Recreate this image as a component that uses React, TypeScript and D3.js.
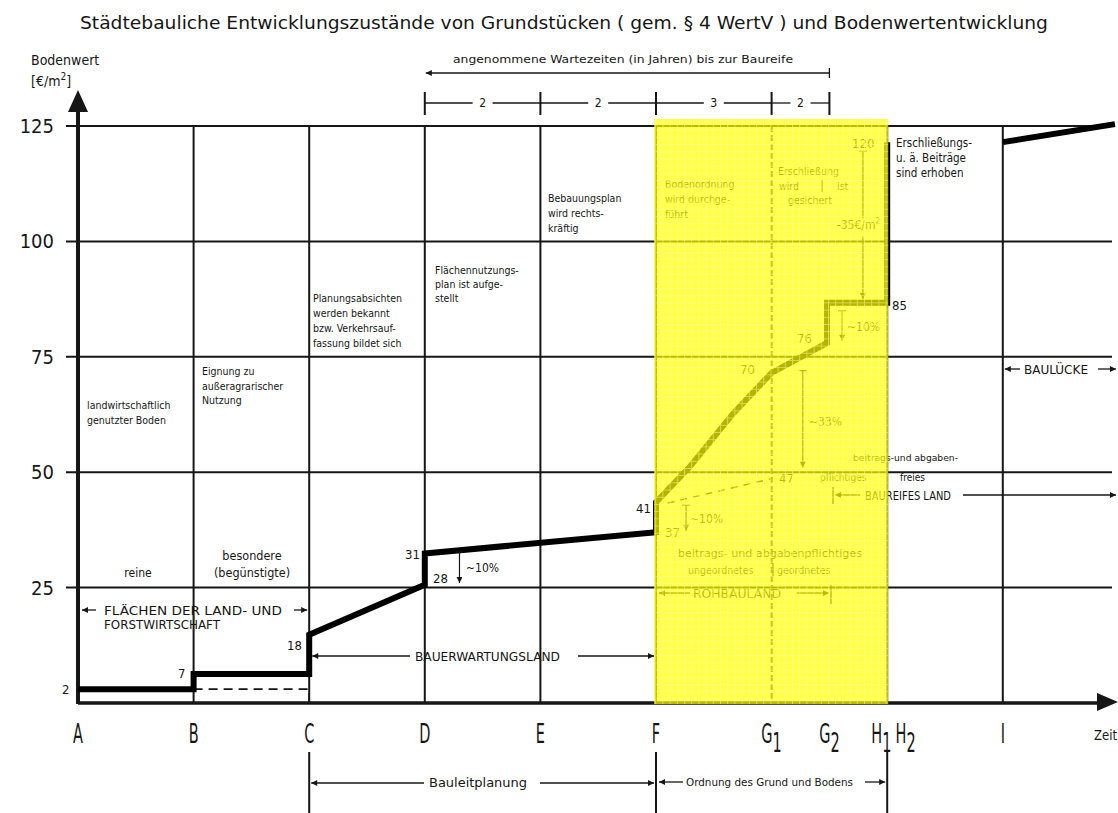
import React from 'react';
import * as d3 from 'd3';

// Stages on the time axis (position in grid units)
const stageLetters = ['A', 'B', 'C', 'D', 'E', 'F', 'G', 'G', 'H', 'H', 'I'];
const stageSubs = ['', '', '', '', '', '', '1', '2', '1', '2', ''];
const stagePos = [0, 1, 2, 3, 4, 5, 6, 6.5, 6.95, 7.16, 8];
const solidGrid = [1, 2, 3, 4, 5, 7, 8];
const yTicks = [25, 50, 75, 100, 125];

// Bodenwert line as drawn [stage, €/m²]
const valueLine: [number, number][] = [
  [0, 3], [1, 3], [1, 6.3], [2, 6.3], [2, 14.8], [3, 25.6], [3, 32.4],
  [5, 37], [5, 43.5], [5.29, 51.1], [5.67, 62.8], [6, 71.5], [6.48, 78],
  [6.48, 86.7], [7, 86.7], [7, 121.5],
];
const valueLineBaulucke: [number, number][] = [[8, 121.5], [8.97, 125.4]];
const dashedLow: [number, number][] = [[1, 3], [2, 3], [2, 0]];
const dashedRoh: [number, number][] = [[5.1, 43.3], [6, 48.6]];

// Wartezeiten (Jahre) between D, E, F, G1, G2
const waitStages = [3, 4, 5, 6, 6.5];
const waitYears = [2, 2, 3, 2];

const x = d3.scaleLinear().domain([0, 8]).range([78, 78 + 8 * 115.6]);
const y = d3.scaleLinear().domain([0, 125]).range([703, 126]);

const FONT = "'DejaVu Sans Condensed', 'DejaVu Sans', sans-serif";
const INK = '#161616';

function Block({ x: tx, y: ty, lines, size = 10.5, lh = 14.5, anchor = 'start' }:
  { x: number; y: number; lines: string[]; size?: number; lh?: number; anchor?: string }) {
  return (
    <text x={tx} y={ty} fontSize={size} textAnchor={anchor as any} fontFamily={FONT} fill={INK}>
      {lines.map((l, i) => (
        <tspan key={i} x={tx} dy={i === 0 ? 0 : lh}>{l}</tspan>
      ))}
    </text>
  );
}

function HArrow({ x1, x2, yy, start = false, end = false }:
  { x1: number; x2: number; yy: number; start?: boolean; end?: boolean }) {
  return (
    <line x1={x1} x2={x2} y1={yy} y2={yy} stroke={INK} strokeWidth={1.3}
      markerStart={start ? 'url(#arr)' : undefined} markerEnd={end ? 'url(#arr)' : undefined} />
  );
}

function VArrow({ sx, from, to, label, tx, ty }:
  { sx: number; from: number; to: number; label: string; tx: number; ty: number }) {
  const px = x(sx);
  return (
    <g>
      <line x1={px - 4} x2={px + 4} y1={y(from)} y2={y(from)} stroke={INK} strokeWidth={1.2} />
      <line x1={px} x2={px} y1={y(from)} y2={y(to)} stroke={INK} strokeWidth={1.2} markerEnd="url(#arr)" />
      <text x={tx} y={ty} fontSize={12} fontFamily={FONT} fill={INK}>{label}</text>
    </g>
  );
}

export default function App() {
  const line = d3.line<[number, number]>().x(d => x(d[0])).y(d => y(d[1]));
  const yl = x(5), yr = x(7);

  const pointLabels = [
    { t: '2', px: 62, py: 694 },
    { t: '7', px: 178, py: 678 },
    { t: '18', px: 287, py: 650 },
    { t: '28', px: 433, py: 583 },
    { t: '31', px: 405, py: 559 },
    { t: '41', px: 636, py: 513 },
    { t: '37', px: 665, py: 537 },
    { t: '47', px: 779, py: 483 },
    { t: '70', px: 740, py: 374 },
    { t: '76', px: 797, py: 343 },
    { t: '85', px: 892, py: 310 },
    { t: '120', px: 852, py: 148 },
  ];

  return (
    <svg width={1118} height={813} style={{ position: 'absolute', left: 0, top: 0, background: '#fff' }}>
      <defs>
        <marker id="arr" viewBox="0 0 10 10" refX={10} refY={5} markerWidth={10} markerHeight={6}
          markerUnits="userSpaceOnUse" orient="auto-start-reverse">
          <path d="M0,0 L10,5 L0,10 z" fill={INK} />
        </marker>
        <pattern id="mesh" width={7.2} height={7.2} patternUnits="userSpaceOnUse">
          <path d="M0,0.5 H7.2 M0.5,0 V7.2" stroke="rgba(255,255,150,0.55)" strokeWidth={1} fill="none" />
        </pattern>
      </defs>
      <rect width={1118} height={813} fill="#fff" />

      {/* title */}
      <text x={80} y={29} fontSize={17.5} fontFamily={FONT} fill={INK} textLength={968} lengthAdjust="spacingAndGlyphs">
        Städtebauliche Entwicklungszustände von Grundstücken ( gem. § 4 WertV ) und Bodenwertentwicklung
      </text>

      {/* y axis title */}
      <text x={31} y={65} fontSize={14} fontFamily={FONT} fill={INK}>Bodenwert</text>
      <text x={31} y={86} fontSize={14} fontFamily={FONT} fill={INK}>
        [€/m<tspan dy={-6} fontSize={10}>2</tspan><tspan dy={6}>]</tspan>
      </text>

      {/* horizontal grid */}
      {yTicks.map(v => (
        <line key={v} x1={66} x2={1112} y1={y(v)} y2={y(v)} stroke={INK} strokeWidth={2} />
      ))}
      {yTicks.map(v => (
        <text key={'t' + v} x={54} y={y(v) + 7} fontSize={20} textAnchor="end" fontFamily={FONT} fill={INK}>{v}</text>
      ))}

      {/* vertical grid */}
      {solidGrid.map(s => (
        <line key={s} x1={x(s)} x2={x(s)} y1={y(125)} y2={y(0)} stroke={INK} strokeWidth={2} />
      ))}
      <line x1={x(6)} x2={x(6)} y1={y(125)} y2={y(0)} stroke={INK} strokeWidth={2} strokeDasharray="6 3" />

      {/* waiting time bracket */}
      <text x={453} y={63} fontSize={11} fontFamily={FONT} fill={INK} textLength={340} lengthAdjust="spacingAndGlyphs">
        angenommene Wartezeiten (in Jahren) bis zur Baureife
      </text>
      <line x1={x(3) + 1} x2={x(6.5)} y1={73} y2={73} stroke={INK} strokeWidth={1.3} markerStart="url(#arr)" />
      <line x1={x(6.5)} x2={x(6.5)} y1={68} y2={78} stroke={INK} strokeWidth={1.3} />
      {waitStages.map(s => (
        <line key={s} x1={x(s)} x2={x(s)} y1={92} y2={115} stroke={INK} strokeWidth={2} />
      ))}
      {waitYears.map((n, i) => {
        const a = x(waitStages[i]), b = x(waitStages[i + 1]), m = (a + b) / 2;
        return (
          <g key={i}>
            <line x1={a} x2={m - 10} y1={103} y2={103} stroke={INK} strokeWidth={1.3} />
            <line x1={m + 10} x2={b} y1={103} y2={103} stroke={INK} strokeWidth={1.3} />
            <text x={m} y={107} fontSize={12} textAnchor="middle" fontFamily={FONT} fill={INK}>{n}</text>
          </g>
        );
      })}

      {/* axes */}
      <line x1={x(0)} x2={x(0)} y1={y(0) + 1} y2={108} stroke={INK} strokeWidth={4} />
      <polygon points={`${x(0)},90 ${x(0) - 10},112 ${x(0) + 10},112`} fill={INK} />
      <line x1={x(0)} x2={1100} y1={y(0)} y2={y(0)} stroke={INK} strokeWidth={3.5} />
      <polygon points={`1118,${y(0) - 1} 1097,${y(0) - 10} 1097,${y(0) + 8}`} fill={INK} />

      {/* stage labels (narrow letters) */}
      {stageLetters.map((l, i) => (
        <g key={i} transform={`translate(${x(stagePos[i])},743) scale(0.62,1)`}>
          <text x={0} y={0} fontSize={26} textAnchor="middle" fontFamily={FONT} fill={INK}>
            {l}{stageSubs[i] && <tspan dy={9}>{stageSubs[i]}</tspan>}
          </text>
        </g>
      ))}
      <text x={1094} y={740} fontSize={14} fontFamily={FONT} fill={INK} textLength={23} lengthAdjust="spacingAndGlyphs">Zeit</text>

      {/* bottom brackets */}
      {[2, 5, 7].map(s => (
        <line key={s} x1={x(s)} x2={x(s)} y1={752} y2={813} stroke={INK} strokeWidth={2} />
      ))}
      <HArrow x1={x(2) + 2} x2={424} yy={783} start />
      <text x={429} y={787} fontSize={12} fontFamily={FONT} fill={INK} textLength={98} lengthAdjust="spacingAndGlyphs">Bauleitplanung</text>
      <HArrow x1={540} x2={x(5) - 2} yy={783} end />
      <HArrow x1={x(5) + 3} x2={683} yy={782} start />
      <text x={686} y={786} fontSize={10.5} fontFamily={FONT} fill={INK} textLength={167} lengthAdjust="spacingAndGlyphs">Ordnung des Grund und Bodens</text>
      <HArrow x1={865} x2={x(7) - 2} yy={782} end />

      {/* dashed reference lines */}
      <path d={line(dashedLow) || ''} fill="none" stroke={INK} strokeWidth={1.6} strokeDasharray="9 6" />
      <path d={line(dashedRoh) || ''} fill="none" stroke={INK} strokeWidth={1.4} strokeDasharray="7 6" />

      {/* Bodenwert line */}
      <path d={line(valueLine) || ''} fill="none" stroke="#000" strokeWidth={6} strokeLinejoin="miter" />
      <path d={line(valueLineBaulucke) || ''} fill="none" stroke="#000" strokeWidth={6} />

      {pointLabels.map(p => (
        <text key={p.t} x={p.px} y={p.py} fontSize={13} fontFamily={FONT} fill={INK}>{p.t}</text>
      ))}

      {/* change annotations */}
      <VArrow sx={3.3} from={32.7} to={26} label="~10%" tx={466} ty={572} />
      <VArrow sx={5.26} from={42.9} to={37.3} label="~10%" tx={690} ty={523} />
      <VArrow sx={6.27} from={72} to={51} label="~33%" tx={809} ty={426} />
      <VArrow sx={6.61} from={85} to={78.5} label="~10%" tx={847} ty={331} />
      <line x1={x(6.79) - 4} x2={x(6.79) + 4} y1={y(119.5)} y2={y(119.5)} stroke={INK} strokeWidth={1.2} />
      <line x1={x(6.79)} x2={x(6.79)} y1={y(119.5)} y2={y(105)} stroke={INK} strokeWidth={1.2} />
      <line x1={x(6.79)} x2={x(6.79)} y1={y(101)} y2={y(87.5)} stroke={INK} strokeWidth={1.2} markerEnd="url(#arr)" />
      <text x={880} y={229} fontSize={12} textAnchor="end" fontFamily={FONT} fill={INK}>
        -35€/m<tspan dy={-5} fontSize={8}>2</tspan>
      </text>

      {/* land category ranges */}
      <HArrow x1={82} x2={96} yy={610} start />
      <HArrow x1={294} x2={x(2) - 2} yy={610} end />
      <text x={104} y={615} fontSize={13} fontFamily={FONT} fill={INK} textLength={178} lengthAdjust="spacingAndGlyphs">FLÄCHEN DER LAND- UND</text>
      <text x={104} y={629} fontSize={13} fontFamily={FONT} fill={INK} textLength={116} lengthAdjust="spacingAndGlyphs">FORSTWIRTSCHAFT</text>

      <HArrow x1={x(2) + 3} x2={410} yy={656} start />
      <text x={415} y={661} fontSize={12.5} fontFamily={FONT} fill={INK} textLength={145} lengthAdjust="spacingAndGlyphs">BAUERWARTUNGSLAND</text>
      <HArrow x1={578} x2={x(5) - 2} yy={656} end />

      <HArrow x1={x(5) + 3} x2={690} yy={593} start />
      <text x={693} y={598} fontSize={12} fontFamily={FONT} fill={INK} textLength={88} lengthAdjust="spacingAndGlyphs">ROHBAULAND</text>
      <HArrow x1={797} x2={829} yy={593} end />
      <line x1={831} x2={831} y1={585} y2={604} stroke={INK} strokeWidth={1.3} />

      <line x1={833} x2={833} y1={487} y2={504} stroke={INK} strokeWidth={1.3} />
      <HArrow x1={835} x2={860} yy={495} start />
      <text x={865} y={500} fontSize={12} fontFamily={FONT} fill={INK} textLength={86} lengthAdjust="spacingAndGlyphs">BAUREIFES LAND</text>
      <HArrow x1={963} x2={1116} yy={495} end />

      <HArrow x1={x(8) + 2} x2={1020} yy={369} start />
      <text x={1024} y={374} fontSize={12} fontFamily={FONT} fill={INK} textLength={64} lengthAdjust="spacingAndGlyphs">BAULÜCKE</text>
      <HArrow x1={1098} x2={1116} yy={369} end />

      {/* descriptive cell texts */}
      <Block x={87} y={409} lines={['landwirtschaftlich', 'genutzter Boden']} />
      <Block x={202} y={375} lines={['Eignung zu', 'außeragrarischer', 'Nutzung']} />
      <Block x={138} y={577} lines={['reine']} size={12} anchor="middle" />
      <Block x={252} y={560} lines={['besondere', '(begünstigte)']} size={12.5} lh={17} anchor="middle" />
      <Block x={313} y={302} lines={['Planungsabsichten', 'werden bekannt', 'bzw. Verkehrsauf-', 'fassung bildet sich']} lh={15} />
      <Block x={435} y={274} lines={['Flächennutzungs-', 'plan ist aufge-', 'stellt']} lh={14} />
      <Block x={548} y={202} lines={['Bebauungsplan', 'wird rechts-', 'kräftig']} lh={15} />
      <Block x={665} y={188} lines={['Bodenordnung', 'wird durchge-', 'führt']} lh={15} />
      <Block x={778} y={175} lines={['Erschließung']} />
      <text x={779} y={190} fontSize={10.5} fontFamily={FONT} fill={INK}>wird</text>
      <line x1={822} x2={822} y1={180} y2={192} stroke={INK} strokeWidth={1.3} />
      <text x={837} y={190} fontSize={10.5} fontFamily={FONT} fill={INK}>ist</text>
      <text x={788} y={204} fontSize={10.5} fontFamily={FONT} fill={INK}>gesichert</text>
      <Block x={896} y={147} lines={['Erschließungs-', 'u. ä. Beiträge', 'sind erhoben']} size={11.5} lh={15} />
      <text x={678} y={557} fontSize={10.5} fontFamily={FONT} fill={INK} textLength={184} lengthAdjust="spacingAndGlyphs">beitrags- und abgabenpflichtiges</text>
      <text x={688} y={574} fontSize={10.5} fontFamily={FONT} fill={INK}>ungeordnetes</text>
      <line x1={773} x2={773} y1={563} y2={577} stroke={INK} strokeWidth={1.3} />
      <text x={777} y={574} fontSize={10.5} fontFamily={FONT} fill={INK}>geordnetes</text>
      <text x={853} y={461} fontSize={9.5} fontFamily={FONT} fill={INK} textLength={105} lengthAdjust="spacingAndGlyphs">beitrags-und abgaben-</text>
      <text x={820} y={481} fontSize={10} fontFamily={FONT} fill={INK}>pflichtiges</text>
      <text x={900} y={481} fontSize={10} fontFamily={FONT} fill={INK}>freies</text>

      {/* yellow highlight: Ordnung des Grund und Bodens */}
      <rect x={yl - 2} y={119} width={yr - yl + 3} height={y(0) - 119 + 1} fill="#ffff00" opacity={0.7} />
      <rect x={yl - 2} y={119} width={yr - yl + 3} height={y(0) - 119 + 1} fill="url(#mesh)" />
    </svg>
  );
}
